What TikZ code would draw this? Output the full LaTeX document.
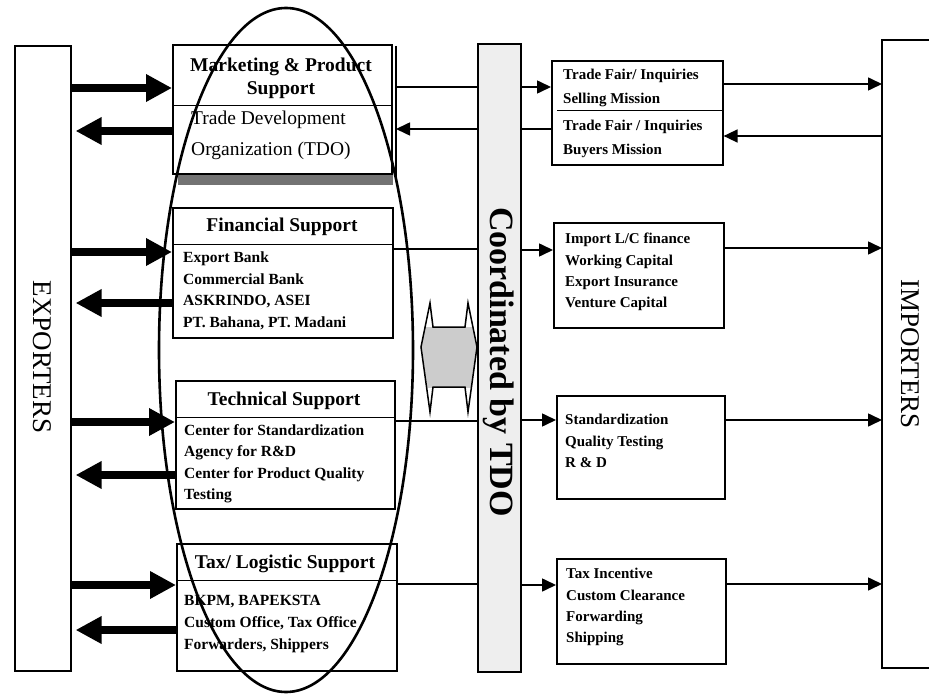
\documentclass[tikz,border=0pt]{standalone}
\usepackage{fontspec}
\setmainfont{Liberation Serif}
\usetikzlibrary{arrows.meta,calc}
\begin{document}
\begin{tikzpicture}[x=1pt,y=-1pt,
  box/.style={draw, line width=1.6pt, inner sep=0pt, anchor=north west},
  thickR/.style={line width=7.5pt, -{Triangle[length=26pt,width=26pt]}},
  thinA/.style={line width=1.6pt, -{Triangle[length=14pt,width=13pt]}},
  thinL/.style={line width=1.6pt},
  head/.style={font=\bfseries\fontsize{19.5}{23}\selectfont, inner sep=0pt, align=center},
  body/.style={font=\bfseries\fontsize{15.5}{21.5}\selectfont, inner sep=0pt, align=left, anchor=north west},
  rbody/.style={font=\bfseries\fontsize{15}{21.4}\selectfont, inner sep=0pt, align=left, anchor=north west},
  side/.style={font=\fontsize{27}{27}\selectfont, inner sep=0pt, rotate=-90}
]
\useasboundingbox (0,0) rectangle (929,695);
\fill[white] (0,0) rectangle (929,695);

% outer boxes
\node[box, minimum width=56pt, minimum height=625pt] (exp) at (14,45) {};
\draw[line width=2.2pt] (940,40) -- (882,40) -- (882,668) -- (940,668);
\coordinate (imp) at (882,350);
\node[side] (explab) at (42,357) {EXPORTERS};
\node[side] (implab) at (910,354) {IMPORTERS};

% coordination bar
\node[box, fill=gray!13, minimum width=43pt, minimum height=628pt] (bar) at (477,43) {};
\node[font=\bfseries\fontsize{34}{34}\selectfont, rotate=-90, inner sep=0pt] (barlab) at (498.5,362) {Coordinated by TDO};

% left boxes
\fill[black!55] (178,175) rectangle (393,185);
\node[box, minimum width=219pt, minimum height=129pt] (mkt) at (172,44) {};
\draw[line width=1pt] (172,106) -- (391,106);
\draw[line width=1.2pt] (396,46) -- (396,177);
\node[head] (mkth) at (281,78) {Marketing \& Product\\Support};
\node[font=\fontsize{19.5}{31}\selectfont, inner sep=0pt, align=left, anchor=north west] (mktb) at (191,111) {Trade Development\\Organization (TDO)};

\node[box, minimum width=220pt, minimum height=130pt] (fin) at (172,207) {};
\draw[line width=1pt] (172,245) -- (392,245);
\node[head] (finh) at (282,227) {Financial Support};
\node[body] (finb) at (183,252) {Export Bank\\Commercial Bank\\ASKRINDO, ASEI\\PT. Bahana, PT. Madani};

\node[box, minimum width=219pt, minimum height=128pt] (tech) at (175,380) {};
\draw[line width=1pt] (175,417) -- (394,417);
\node[head] (techh) at (284,401) {Technical Support};
\node[body] (techb) at (184,424) {Center for Standardization\\Agency for R\&D\\Center for Product Quality\\Testing};

\node[box, minimum width=220pt, minimum height=127pt] (tax) at (176,543) {};
\draw[line width=1pt] (176,580) -- (396,580);
\node[head] (taxh) at (285,564) {Tax/ Logistic Support};
\node[body, font=\bfseries\fontsize{15.5}{22}\selectfont] (taxb) at (184,595) {BKPM, BAPEKSTA\\Custom Office, Tax Office\\Forwarders, Shippers};

% right boxes
\node[box, minimum width=171pt, minimum height=104pt] (tf) at (551,60) {};
\draw[line width=0.8pt] (557,110) -- (722,110);
\node[rbody, font=\bfseries\fontsize{15}{23.5}\selectfont] (tfa) at (563,69) {Trade Fair/ Inquiries\\Selling Mission};
\node[rbody, font=\bfseries\fontsize{15}{23.5}\selectfont] (tfb) at (563,120) {Trade Fair / Inquiries\\Buyers Mission};

\node[box, minimum width=170pt, minimum height=105pt] (imb) at (553,222) {};
\node[rbody] (imbt) at (565,233) {Import L/C finance\\Working Capital\\Export Insurance\\Venture Capital};

\node[box, minimum width=168pt, minimum height=103pt] (stb) at (556,395) {};
\node[rbody] (stbt) at (565,414) {Standardization\\Quality Testing\\R \& D};

\node[box, minimum width=169pt, minimum height=105pt] (txb) at (556,558) {};
\node[rbody] (txbt) at (566,568) {Tax Incentive\\Custom Clearance\\Forwarding\\Shipping};

% double block arrow
\begin{scope}
\clip (420,327) rectangle (478,387);
\fill[gray!40] (430,303) -- (421,347) -- (430,412) -- (468,412) -- (477,347) -- (468,303) -- cycle;
\end{scope}
\draw[line width=1.5pt, line join=miter] (430,303) -- (421,347) -- (430,412) -- (433,387) -- (465,387) -- (468,412) -- (477,347) -- (468,303) -- (465,327) -- (433,327) -- cycle;
\node[inner sep=0pt] (dbl) at (449,357) {};

% thick arrows exporters <-> left boxes
\draw[thickR] (exp.east |- 0,88) -- (mkt.west |- 0,88);
\draw[thickR] (mkt.west |- 0,131) -- ($(exp.east |- 0,131)+(4,0)$);
\draw[thickR] (exp.east |- 0,252) -- (fin.west |- 0,252);
\draw[thickR] (fin.west |- 0,303) -- ($(exp.east |- 0,303)+(4,0)$);
\draw[thickR] (exp.east |- 0,422) -- (tech.west |- 0,422);
\draw[thickR] (tech.west |- 0,475) -- ($(exp.east |- 0,475)+(4,0)$);
\draw[thickR] (exp.east |- 0,585) -- (tax.west |- 0,585);
\draw[thickR] (tax.west |- 0,630) -- ($(exp.east |- 0,630)+(4,0)$);

% row 1
\draw[thinL] (396,87) -- (bar.west |- 0,87);
\draw[thinA] (bar.east |- 0,87) -- (tf.west |- 0,87);
\draw[thinA] (tf.east |- 0,84) -- (imp |- 0,84);
\draw[thinA] (imp |- 0,136) -- (tf.east |- 0,136);
\draw[thinL] (tf.west |- 0,129) -- (bar.east |- 0,129);
\draw[thinA] (bar.west |- 0,129) -- (396,129);
% row 2
\draw[thinL] (fin.east |- 0,249) -- (bar.west |- 0,249);
\draw[thinA] (bar.east |- 0,250) -- (imb.west |- 0,250);
\draw[thinA] (imb.east |- 0,248) -- (imp |- 0,248);
% row 3
\draw[thinL] (tech.east |- 0,421) -- (bar.west |- 0,421);
\draw[thinA] (bar.east |- 0,420) -- (stb.west |- 0,420);
\draw[thinA] (stb.east |- 0,420) -- (imp |- 0,420);
% row 4
\draw[thinL] (tax.east |- 0,584) -- (bar.west |- 0,584);
\draw[thinA] (bar.east |- 0,585) -- (txb.west |- 0,585);
\draw[thinA] (txb.east |- 0,584) -- (imp |- 0,584);

% ellipse
\draw[line width=2.6pt] (286,350) ellipse [x radius=127, y radius=342];
\end{tikzpicture}
\end{document}
